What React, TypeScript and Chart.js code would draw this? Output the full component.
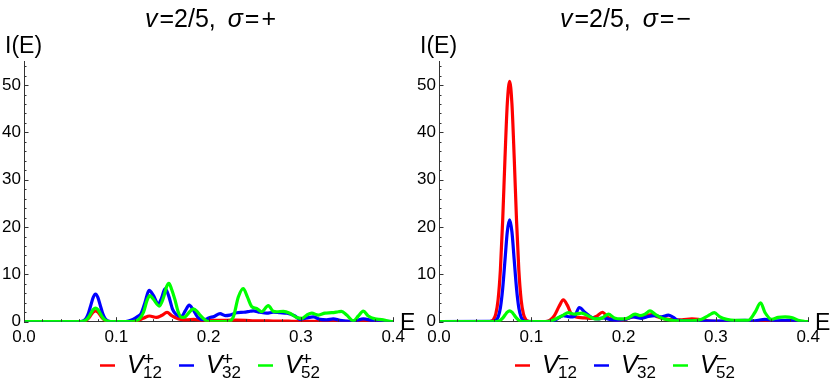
import React, { useEffect, useRef } from 'react';
import { Chart, registerables } from 'chart.js';

Chart.register(...registerables);

// ---------- data ----------
const xTicks = [0, 0.1, 0.2, 0.3, 0.4];
const yTicks = [0, 10, 20, 30, 40, 50];
const seriesNames = ['12', '32', '52'];
const seriesColors = ['#ff0000', '#0000ff', '#00ff00'];

// sigma = + panel
const plusE12 = [0, 0.06, 0.0625, 0.065, 0.0675, 0.07, 0.0725, 0.075, 0.0775, 0.08, 0.0825, 0.085, 0.0875, 0.09, 0.0925, 0.095, 0.115, 0.12, 0.125, 0.13, 0.136, 0.1435, 0.149, 0.155, 0.16, 0.165, 0.17, 0.176, 0.184, 0.192, 0.2, 0.21, 0.22, 0.23, 0.24, 0.25, 0.26, 0.27, 0.28, 0.29, 0.3, 0.32, 0.335, 0.35, 0.37, 0.4];
const plusI12 = [0, 0.005, 0.025, 0.1, 0.31, 0.75, 1.4, 2.03, 2.3, 2.03, 1.4, 0.75, 0.31, 0.1, 0.025, 0.005, 0, 0.1, 0.35, 0.8, 1.2, 0.9, 1.3, 1.95, 1.3, 0.8, 0.5, 0.4, 0.5, 0.3, 0.25, 0.3, 0.3, 0.35, 0.3, 0.2, 0.2, 0.15, 0.15, 0.1, 0.05, 0.05, 0.1, 0.05, 0, 0];

const plusE32 = [0, 0.06, 0.0625, 0.065, 0.0675, 0.07, 0.0725, 0.075, 0.0775, 0.08, 0.0825, 0.085, 0.0875, 0.09, 0.0925, 0.095, 0.108, 0.113, 0.118, 0.123, 0.127, 0.131, 0.1355, 0.14, 0.1455, 0.149, 0.153, 0.157, 0.161, 0.165, 0.1705, 0.175, 0.179, 0.183, 0.188, 0.1925, 0.197, 0.2, 0.206, 0.2124, 0.218, 0.223, 0.2304, 0.238, 0.245, 0.2485, 0.2557, 0.263, 0.27, 0.2774, 0.285, 0.2936, 0.299, 0.3063, 0.3134, 0.3207, 0.328, 0.335, 0.3424, 0.353, 0.36, 0.3676, 0.3784, 0.393, 0.4];
const plusI32 = [0, 0.013, 0.065, 0.26, 0.79, 1.9, 3.55, 5.16, 5.85, 5.16, 3.55, 1.9, 0.79, 0.26, 0.065, 0.013, 0, 0.15, 0.5, 1.1, 1.8, 4.0, 6.6, 5.6, 3.7, 5.0, 7.0, 5.3, 2.6, 1.5, 1.1, 2.4, 3.5, 2.6, 1.0, 0.45, 0.5, 0.8, 1.1, 1.7, 1.3, 1.4, 1.9, 2.0, 2.2, 2.3, 2.0, 1.8, 2.0, 1.9, 1.8, 1.2, 0.5, 0.8, 1.0, 0.5, 0.4, 0.6, 0.3, 0.1, 0.25, 0.6, 0.2, 0.05, 0];

const plusE52 = [0, 0.0625, 0.065, 0.0675, 0.07, 0.0725, 0.075, 0.0775, 0.08, 0.0825, 0.085, 0.0875, 0.09, 0.0925, 0.115, 0.12, 0.125, 0.1295, 0.1335, 0.1365, 0.14, 0.1466, 0.151, 0.1545, 0.157, 0.16, 0.1636, 0.167, 0.1708, 0.1744, 0.179, 0.1834, 0.1875, 0.1907, 0.196, 0.2, 0.221, 0.2268, 0.2322, 0.2375, 0.2419, 0.2467, 0.2521, 0.2575, 0.2647, 0.27, 0.2737, 0.281, 0.288, 0.2954, 0.301, 0.3063, 0.3117, 0.3189, 0.326, 0.3334, 0.3405, 0.344, 0.3496, 0.3568, 0.3622, 0.3676, 0.373, 0.3803, 0.3875, 0.3947, 0.4];
const plusI52 = [0, 0.03, 0.13, 0.39, 0.94, 1.76, 2.56, 2.9, 2.56, 1.76, 0.94, 0.39, 0.13, 0.03, 0, 0.1, 0.6, 2.0, 4.6, 5.5, 4.8, 3.3, 5.0, 7.4, 8.1, 6.8, 4.6, 2.1, 0.9, 1.0, 2.0, 2.7, 2.2, 1.4, 0.4, 0, 0, 1.0, 5.2, 7.0, 5.3, 3.2, 2.8, 2.1, 3.4, 2.2, 2.1, 2.2, 1.8, 0.9, 0.7, 1.4, 1.8, 1.4, 1.8, 1.9, 2.1, 2.2, 1.4, 0.2, 1.2, 2.25, 1.2, 0.6, 0.45, 0.15, 0];

// sigma = - panel
const minusE12 = [0, 0.054, 0.0565, 0.059, 0.0615, 0.064, 0.0665, 0.069, 0.0715, 0.074, 0.0765, 0.079, 0.0815, 0.084, 0.0865, 0.089, 0.0915, 0.094, 0.0965, 0.099, 0.115, 0.12, 0.125, 0.13, 0.1347, 0.139, 0.1437, 0.151, 0.158, 0.1654, 0.171, 0.177, 0.1835, 0.19, 0.198, 0.209, 0.216, 0.223, 0.2304, 0.2376, 0.245, 0.2557, 0.263, 0.274, 0.281, 0.288, 0.3, 0.33, 0.35, 0.4];
const minusI12 = [0, 0, 0.1, 0.46, 1.6, 4.6, 10.9, 21.4, 34.6, 46.1, 50.8, 46.1, 34.6, 21.4, 10.9, 4.6, 1.6, 0.46, 0.1, 0, 0, 0.3, 1.3, 3.2, 4.6, 3.5, 1.5, 0.9, 0.8, 0.7, 1.2, 2.0, 0.8, 0.4, 0.3, 1.0, 1.2, 1.3, 1.5, 1.0, 0.6, 0.4, 0.4, 0.6, 0.5, 0.3, 0.1, 0.05, 0, 0];

const minusE32 = [0, 0.059, 0.0615, 0.064, 0.0665, 0.069, 0.0715, 0.074, 0.0765, 0.079, 0.0815, 0.084, 0.0865, 0.089, 0.0915, 0.094, 0.115, 0.1257, 0.1347, 0.142, 0.147, 0.152, 0.158, 0.1654, 0.1726, 0.178, 0.185, 0.1925, 0.2015, 0.2105, 0.2196, 0.2268, 0.234, 0.241, 0.2485, 0.254, 0.259, 0.27, 0.3, 0.3315, 0.342, 0.353, 0.364, 0.378, 0.39, 0.4];
const minusI32 = [0, 0.05, 0.24, 0.94, 2.9, 7.0, 13.0, 19.0, 21.5, 19.0, 13.0, 7.0, 2.9, 0.94, 0.24, 0.05, 0, 0.3, 1.3, 1.0, 1.2, 3.0, 2.0, 0.9, 0.6, 0.8, 0.5, 0.3, 0.5, 1.0, 0.7, 1.1, 1.3, 1.0, 1.4, 0.9, 0.3, 0.2, 0.15, 0.3, 0.2, 0.5, 0.2, 0.3, 0.1, 0];

const minusE52 = [0, 0.0615, 0.064, 0.0665, 0.069, 0.0715, 0.074, 0.0765, 0.079, 0.0815, 0.084, 0.0865, 0.089, 0.0915, 0.115, 0.12, 0.1257, 0.1347, 0.14, 0.147, 0.1546, 0.162, 0.169, 0.176, 0.1835, 0.19, 0.198, 0.205, 0.2124, 0.2178, 0.2232, 0.2286, 0.234, 0.241, 0.2485, 0.259, 0.274, 0.2845, 0.2918, 0.2983, 0.3044, 0.3117, 0.3207, 0.335, 0.3424, 0.3485, 0.353, 0.3605, 0.3676, 0.375, 0.382, 0.389, 0.396, 0.4];
const minusI52 = [0, 0.025, 0.1, 0.31, 0.75, 1.4, 2.03, 2.3, 2.03, 1.4, 0.75, 0.31, 0.1, 0.025, 0, 0.1, 0.5, 1.4, 1.9, 1.6, 1.8, 1.2, 0.6, 0.7, 1.6, 0.8, 0.6, 0.8, 1.6, 1.3, 1.6, 2.3, 1.6, 0.8, 0.4, 0.2, 0.2, 0.5, 1.3, 1.9, 1.0, 0.5, 0.3, 0.3, 2.0, 4.0, 2.0, 0.5, 0.9, 1.0, 0.9, 0.3, 0.05, 0];

// ---------- styling ----------
const FONT = '"Liberation Sans", Arial, sans-serif';
const AXIS = '#333333';
const W = 415;
const H = 383;

const zip = (xs: number[], ys: number[]) => xs.map((x, i) => ({ x, y: ys[i] }));

const decorPlugin = {
  id: 'decor',
  afterDraw(chart: any, _args: any, opts: any) {
    const ctx = chart.ctx as CanvasRenderingContext2D;
    const xs = chart.scales.x;
    const ys = chart.scales.y;
    const y0 = ys.getPixelForValue(0);
    const x0 = xs.getPixelForValue(0);
    ctx.save();
    // inward tick marks
    ctx.strokeStyle = AXIS;
    ctx.lineWidth = 1;
    ctx.beginPath();
    for (let i = 0; i <= 20; i++) {
      const px = Math.round(xs.getPixelForValue(i * 0.02)) + 0.5;
      const len = i % 5 === 0 ? 4.5 : 2.5;
      ctx.moveTo(px, y0);
      ctx.lineTo(px, y0 - len);
    }
    for (let i = 0; i <= 27; i++) {
      const py = Math.round(ys.getPixelForValue(i * 2)) + 0.5;
      const len = i % 5 === 0 ? 4.5 : 2.5;
      ctx.moveTo(x0, py);
      ctx.lineTo(x0 + len, py);
    }
    ctx.stroke();

    ctx.fillStyle = '#000';
    ctx.textBaseline = 'alphabetic';
    ctx.textAlign = 'left';
    // title
    const segs: [string, boolean, number][] = [
      ['v', true, 1],
      ['=', false, 2],
      ['2/5,', false, 0],
      ['σ', true, 12],
      ['=', false, 2],
      [opts.sign, false, 2],
    ];
    const sized = segs.map(([t, it, gap]) => {
      ctx.font = `${it ? 'italic ' : ''}25px ${FONT}`;
      return { t, it, gap, w: ctx.measureText(t).width };
    });
    const total = sized.reduce((a, s) => a + s.w + s.gap, 0);
    let tx = 210 - total / 2;
    sized.forEach((s) => {
      ctx.font = `${s.it ? 'italic ' : ''}25px ${FONT}`;
      tx += s.gap;
      ctx.fillText(s.t, tx, 27);
      tx += s.w;
    });

    // axis labels
    ctx.font = `23px ${FONT}`;
    ctx.fillText('I(E)', 5, 53);
    ctx.fillText('E', 400, 330);

    // legend
    for (let i = 0; i < 3; i++) {
      const bx = 100 + i * 79;
      ctx.strokeStyle = seriesColors[i];
      ctx.lineWidth = 2.5;
      ctx.beginPath();
      ctx.moveTo(bx, 365.5);
      ctx.lineTo(bx + 15, 365.5);
      ctx.stroke();
      ctx.font = `italic 25px ${FONT}`;
      ctx.fillText('V', bx + 27, 373);
      ctx.font = `17px ${FONT}`;
      ctx.fillText(seriesNames[i], bx + 43, 377.5);
      ctx.font = `19px ${FONT}`;
      ctx.fillText(opts.sign, bx + 43, 365);
    }
    ctx.restore();
  },
};

function Panel({ sign, es, is }: { sign: string; es: number[][]; is: number[][] }) {
  const ref = useRef<HTMLCanvasElement>(null);
  useEffect(() => {
    if (!ref.current) return;
    const datasets = es.map((e, k) => ({
      label: 'V' + seriesNames[k] + sign,
      data: zip(e, is[k]),
      borderColor: seriesColors[k],
      backgroundColor: seriesColors[k],
      borderWidth: 3.2,
      pointRadius: 0,
      fill: false,
      cubicInterpolationMode: 'monotone' as const,
      order: 2 - k,
    }));
    const chart = new Chart(ref.current, {
      type: 'line',
      data: { datasets },
      options: {
        responsive: false,
        devicePixelRatio: 1,
        animation: false,
        layout: { padding: { left: 0, right: 21.8, top: 61.4, bottom: 0 } },
        plugins: {
          legend: { display: false },
          tooltip: { enabled: false },
          title: { display: false },
          decor: { sign },
        } as any,
        scales: {
          x: {
            type: 'linear',
            min: 0,
            max: 0.4,
            grid: { display: false, drawTicks: false },
            border: { display: true, color: AXIS, width: 1 },
            afterBuildTicks: (s: any) => {
              s.ticks = xTicks.map((v) => ({ value: v }));
            },
            ticks: {
              padding: 5,
              color: '#000',
              font: { family: FONT, size: 17 },
              maxRotation: 0,
              autoSkip: false,
              callback: (v: any) => Number(v).toFixed(1),
            },
            afterFit: (s: any) => {
              s.height = 61.3;
            },
          },
          y: {
            type: 'linear',
            min: 0,
            max: 55,
            grid: { display: false, drawTicks: false },
            border: { display: true, color: AXIS, width: 1 },
            afterBuildTicks: (s: any) => {
              s.ticks = yTicks.map((v) => ({ value: v }));
            },
            ticks: {
              padding: 3,
              color: '#000',
              font: { family: FONT, size: 17 },
              autoSkip: false,
              callback: (v: any) => String(v),
            },
            afterFit: (s: any) => {
              s.width = 24;
            },
          },
        },
      } as any,
      plugins: [decorPlugin],
    });
    return () => chart.destroy();
  }, []);
  return <canvas ref={ref} width={W} height={H} style={{ display: 'block', width: W, height: H }} />;
}

export default function App() {
  return (
    <div style={{ position: 'absolute', left: 0, top: 0, width: 830, height: 383, display: 'flex', background: '#fff' }}>
      <Panel sign="+" es={[plusE12, plusE32, plusE52]} is={[plusI12, plusI32, plusI52]} />
      <Panel sign={'\u2212'} es={[minusE12, minusE32, minusE52]} is={[minusI12, minusI32, minusI52]} />
    </div>
  );
}
